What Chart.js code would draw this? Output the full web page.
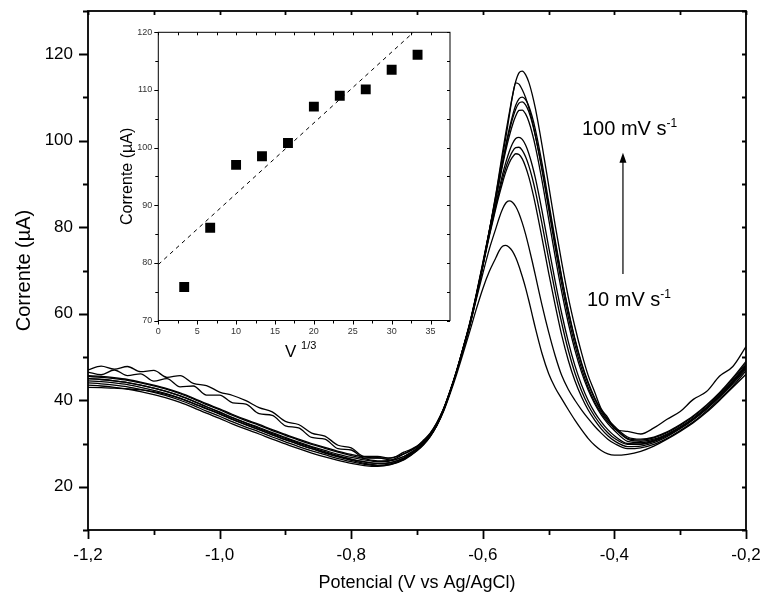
<!doctype html>
<html>

<head>
    <title>Voltametria</title>
    <meta charset="utf-8" />
    <script src="https://cdn.jsdelivr.net/npm/chart.js@4.4.0/dist/chart.umd.min.js"></script>
    <style>
        body { margin: 0; background: #fff; }
        #caixa { position: relative; width: 763px; height: 598px; }
        canvas { position: absolute; }
        .nota { position: absolute; font-family: "Liberation Sans", Arial, sans-serif; font-size: 20px; color: #000; white-space: nowrap; line-height: 22px; }
        .nota sup { font-size: 12px; vertical-align: 8px; line-height: 0; }
    </style>
    <script>
        // potencial (V vs Ag/AgCl)
        const potencial = [
            -1.20, -1.18, -1.16, -1.14, -1.12, -1.10, -1.08, -1.06, -1.04, -1.02,
            -1.00, -0.98, -0.96, -0.94, -0.92, -0.90, -0.88, -0.86, -0.84, -0.82,
            -0.80, -0.78, -0.76, -0.74, -0.72,
            -0.71, -0.70, -0.69, -0.68, -0.67, -0.66, -0.65, -0.64, -0.63, -0.62, -0.61, -0.60, -0.59,
            -0.58, -0.575, -0.57, -0.565, -0.56, -0.555, -0.55, -0.545, -0.54, -0.535, -0.53, -0.525, -0.52,
            -0.51, -0.50, -0.49, -0.48, -0.47, -0.46, -0.45, -0.44, -0.43, -0.42, -0.41, -0.40,
            -0.38, -0.36, -0.34, -0.32, -0.30, -0.28, -0.26, -0.24, -0.22, -0.20
        ];
        // corrente (uA) para cada velocidade de varredura
        const i10 = [
            43.0, 42.9, 42.8, 42.6, 42.4, 42.0, 41.3, 40.4, 39.3, 38.1, 36.9, 35.6, 34.4, 33.2, 32.0, 30.9, 29.8, 28.8, 27.8, 26.9, 26.1, 25.4, 25.0, 25.3, 26.4,
            27.4, 28.5, 29.9, 31.7, 34.1, 37.3, 41.4, 45.9, 50.8, 55.8, 61.0, 65.8, 69.8,
            73.0, 74.6, 75.6, 75.8, 75.4, 74.5, 73.0, 71.0, 68.6, 66.0, 63.0, 59.8, 56.6,
            50.8, 46.2, 42.9, 40.3, 37.8, 35.4, 33.2, 31.2, 29.6, 28.4, 27.6, 27.3,
            27.5, 28.2, 29.4, 31.0, 32.8, 34.8, 37.2, 40.0, 43.0, 46.0
        ];
        const i20 = [
            45.0, 44.8, 44.5, 44.1, 43.5, 42.8, 42.0, 41.0, 39.8, 38.5, 37.2, 35.9, 34.7, 33.5, 32.3, 31.2, 30.1, 29.1, 28.1, 27.2, 26.4, 25.8, 25.4, 25.6, 26.6,
            27.6, 28.6, 30.0, 31.8, 34.3, 37.6, 41.8, 46.5, 51.9, 57.3, 63.3, 69.3, 75.0,
            79.8, 82.2, 84.2, 85.6, 86.1, 85.8, 84.8, 83.2, 81.0, 78.4, 75.4, 72.2, 68.8,
            62.0, 55.8, 50.3, 45.7, 42.5, 40.0, 37.8, 35.8, 34.0, 32.4, 31.0, 30.0,
            28.8, 29.0, 29.8, 31.2, 33.0, 35.0, 37.5, 40.3, 43.3, 46.8
        ];
        const i30 = [
            43.5, 43.3, 43.0, 42.6, 42.0, 41.3, 40.5, 39.5, 38.3, 37.0, 35.8, 34.5, 33.3, 32.2, 31.0, 29.9, 28.8, 27.8, 26.9, 26.1, 25.4, 24.9, 24.7, 25.1, 26.2,
            27.2, 28.3, 29.7, 31.6, 34.1, 37.5, 41.8, 46.6, 52.0, 57.5, 64.0, 71.0, 78.0,
            84.5, 87.5, 90.3, 92.8, 94.8, 96.2, 97.0, 96.8, 95.8, 94.0, 91.6, 88.6, 85.2,
            77.5, 69.5, 62.0, 55.0, 49.2, 44.5, 40.8, 37.8, 35.4, 33.4, 31.8, 30.6,
            29.3, 29.4, 30.2, 31.6, 33.4, 35.5, 38.0, 40.8, 43.8, 47.2
        ];
        const i40 = [
            45.5, 45.3, 45.0, 44.6, 44.0, 43.3, 42.5, 41.5, 40.3, 39.0, 37.8, 36.5, 35.3, 34.2, 33.0, 31.9, 30.8, 29.8, 28.9, 28.0, 27.2, 26.5, 26.0, 26.1, 27.0,
            27.9, 28.9, 30.3, 32.0, 34.5, 37.8, 42.0, 46.7, 52.0, 57.6, 64.2, 71.2, 78.3,
            85.0, 88.2, 91.2, 93.8, 95.9, 97.5, 98.4, 98.5, 97.8, 96.3, 94.2, 91.5, 88.3,
            80.8, 72.8, 65.0, 57.8, 51.5, 46.3, 42.2, 38.9, 36.3, 34.2, 32.5, 31.2,
            29.8, 29.8, 30.5, 31.8, 33.6, 35.7, 38.2, 41.0, 44.2, 47.8
        ];
        const i50 = [
            44.5, 44.3, 44.0, 43.6, 43.0, 42.3, 41.5, 40.5, 39.3, 38.0, 36.8, 35.5, 34.3, 33.2, 32.0, 30.9, 29.8, 28.8, 27.9, 27.0, 26.3, 25.7, 25.4, 25.6, 26.6,
            27.6, 28.6, 30.0, 31.8, 34.3, 37.6, 41.8, 46.5, 51.9, 57.5, 64.1, 71.2, 78.5,
            85.5, 88.9, 92.2, 95.0, 97.4, 99.3, 100.5, 100.8, 100.3, 99.0, 97.0, 94.4, 91.3,
            83.8, 75.5, 67.5, 60.0, 53.5, 48.0, 43.6, 40.0, 37.2, 35.0, 33.2, 31.8,
            30.0, 29.9, 30.6, 32.0, 33.8, 35.8, 38.3, 41.2, 44.5, 48.2
        ];
        const i60 = [
            45.7, 45.5, 45.2, 44.8, 44.2, 43.5, 42.7, 41.7, 40.5, 39.2, 38.0, 36.7, 35.5, 34.4, 33.2, 32.1, 31.0, 30.0, 29.1, 28.2, 27.5, 26.9, 26.6, 26.7, 27.6,
            28.4, 29.3, 30.6, 32.3, 34.7, 37.9, 42.1, 46.8, 52.1, 57.8, 64.5, 71.8, 79.3,
            86.8, 90.6, 94.3, 97.8, 100.9, 103.6, 105.7, 107.0, 107.1, 106.2, 104.4, 101.8, 98.6,
            90.8, 82.0, 73.2, 65.0, 57.8, 51.6, 46.5, 42.4, 39.2, 36.6, 34.6, 33.0,
            30.5, 30.2, 30.8, 32.0, 33.6, 35.6, 38.0, 40.8, 44.0, 47.5
        ];
        const i70 = [
            44.0, 43.8, 43.5, 43.1, 42.5, 41.8, 41.0, 40.0, 38.8, 37.5, 36.3, 35.0, 33.8, 32.7, 31.5, 30.4, 29.3, 28.3, 27.4, 26.5, 25.8, 25.2, 24.9, 25.2, 26.3,
            27.3, 28.4, 29.8, 31.6, 34.1, 37.5, 41.7, 46.4, 51.8, 57.6, 64.3, 71.6, 79.2,
            86.9, 90.9, 94.9, 98.6, 102.0, 105.0, 107.3, 108.7, 109.0, 108.3, 106.7, 104.2, 101.0,
            93.2, 84.3, 75.3, 66.8, 59.3, 52.8, 47.4, 43.0, 39.6, 37.0, 35.0, 33.5,
            31.0, 30.5, 31.0, 32.2, 33.8, 35.8, 38.3, 41.2, 44.4, 48.0
        ];
        const i80 = [
            45.0, 44.8, 44.5, 44.1, 43.5, 42.8, 42.0, 41.0, 39.8, 38.5, 37.3, 36.0, 34.8, 33.7, 32.5, 31.4, 30.3, 29.3, 28.4, 27.5, 26.8, 26.2, 25.8, 26.0, 27.0,
            27.8, 28.8, 30.1, 31.9, 34.4, 37.7, 41.9, 46.6, 52.0, 57.4, 64.0, 71.3, 79.0,
            86.9, 91.0, 95.1, 99.0, 102.6, 105.7, 108.2, 109.7, 110.1, 109.5, 108.0, 105.6, 102.5,
            94.8, 86.0, 77.0, 68.4, 60.6, 54.0, 48.4, 43.9, 40.3, 37.5, 35.4, 33.8,
            31.2, 30.8, 31.3, 32.5, 34.2, 36.2, 38.7, 41.6, 44.9, 48.6
        ];
        const i90 = [
            46.5, 45.9, 47.0, 45.7, 46.1, 44.4, 45.0, 43.1, 43.3, 41.2, 41.2, 39.4, 39.1, 36.9, 36.5, 34.1, 33.6, 31.4, 31.0, 28.8, 28.5, 26.6, 26.7, 26.2, 27.6,
            28.3, 29.2, 30.5, 32.2, 34.6, 37.8, 41.9, 46.5, 51.7, 57.2, 63.8, 71.2, 79.2,
            87.5, 92.0, 96.5, 100.8, 105.5, 110.2, 113.4, 113.1, 111.8, 110.0, 107.6, 104.6, 101.2,
            93.5, 85.0, 76.4, 68.2, 60.8, 54.2, 48.7, 44.2, 40.6, 37.8, 35.6, 34.0,
            31.5, 31.0, 31.5, 32.7, 34.4, 36.4, 38.9, 41.8, 45.2, 49.0
        ];
        const i100 = [
            47.0, 47.9, 47.2, 47.8, 46.6, 46.9, 45.3, 45.7, 43.9, 43.4, 41.9, 41.1, 39.9, 38.3, 37.3, 35.1, 34.4, 32.4, 31.7, 29.6, 29.0, 27.0, 27.0, 26.6, 28.0,
            28.6, 29.4, 30.8, 32.4, 34.8, 37.9, 42.0, 46.5, 51.6, 57.0, 63.6, 71.0, 79.2,
            87.8, 92.5, 97.3, 101.9, 106.2, 110.3, 113.7, 115.7, 116.1, 115.3, 113.5, 110.8, 107.4,
            99.0, 89.8, 80.5, 71.8, 63.8, 57.0, 51.0, 45.8, 41.9, 38.0, 36.0, 33.4,
            32.8, 32.2, 33.6, 35.6, 37.4, 40.2, 42.0, 45.6, 47.8, 52.4
        ];
        const curvas = [i10, i20, i30, i40, i50, i60, i70, i80, i90, i100];

        // marcas dos eixos do grafico principal
        const xTicks = [-1.2, -1.0, -0.8, -0.6, -0.4, -0.2];
        const xMinor = [-1.1, -0.9, -0.7, -0.5, -0.3];
        const yTicks = [20, 40, 60, 80, 100, 120];
        const yMinor = [10, 30, 50, 70, 90, 110, 130];

        // grafico inserido: corrente de pico vs V^1/3
        const insetX = [3.33, 6.67, 10, 13.33, 16.67, 20, 23.33, 26.67, 30, 33.33];
        const insetPico = [75.8, 86.1, 97.0, 98.5, 100.8, 107.1, 109.0, 110.1, 113.5, 116.1];
        const ajusteX = [0, 32.8];
        const ajusteY = [79.7, 120];
        const insetXTicks = [0, 5, 10, 15, 20, 25, 30, 35];
        const insetXMinor = [2.5, 7.5, 12.5, 17.5, 22.5, 27.5, 32.5];
        const insetYTicks = [70, 80, 90, 100, 110, 120];
        const insetYMinor = [75, 85, 95, 105, 115];

        // seta 10 -> 100 mV/s
        const seta = { x: -0.387, de: 69.2, ate: 97.2 };

        const fonte = '"Liberation Sans", Arial, sans-serif';

        function moldura(cfg) {
            return {
                id: 'moldura',
                afterDatasetsDraw(chart) {
                    const { ctx, chartArea: a, scales: { x, y } } = chart;
                    ctx.save();
                    ctx.strokeStyle = '#000';
                    ctx.lineWidth = cfg.lw;
                    ctx.strokeRect(a.left, a.top, a.right - a.left, a.bottom - a.top);
                    ctx.beginPath();
                    const marcaY = (v, fora) => {
                        const py = Math.round(y.getPixelForValue(v)) + 0.5;
                        ctx.moveTo(a.left - fora, py); ctx.lineTo(a.left, py);
                        ctx.moveTo(a.right - cfg.dentro, py); ctx.lineTo(a.right, py);
                    };
                    const marcaX = (v, fora) => {
                        const px = Math.round(x.getPixelForValue(v)) + 0.5;
                        ctx.moveTo(px, a.bottom); ctx.lineTo(px, a.bottom + fora);
                        ctx.moveTo(px, a.top); ctx.lineTo(px, a.top + cfg.dentro);
                    };
                    cfg.yMaior.forEach(v => marcaY(v, cfg.maior));
                    cfg.yMenor.forEach(v => marcaY(v, cfg.menor));
                    cfg.xMaior.forEach(v => marcaX(v, cfg.maior));
                    cfg.xMenor.forEach(v => marcaX(v, cfg.menor));
                    ctx.stroke();
                    if (cfg.seta) {
                        const px = x.getPixelForValue(cfg.seta.x);
                        const y0 = y.getPixelForValue(cfg.seta.de);
                        const y1 = y.getPixelForValue(cfg.seta.ate);
                        ctx.lineWidth = 1.2;
                        ctx.beginPath();
                        ctx.moveTo(px, y0); ctx.lineTo(px, y1 + 8);
                        ctx.stroke();
                        ctx.beginPath();
                        ctx.moveTo(px, y1); ctx.lineTo(px - 3.5, y1 + 10); ctx.lineTo(px + 3.5, y1 + 10);
                        ctx.closePath();
                        ctx.fillStyle = '#000';
                        ctx.fill();
                    }
                    ctx.restore();
                }
            };
        }

        function semPadding(s) {
            s.paddingTop = 0; s.paddingBottom = 0; s.paddingLeft = 0; s.paddingRight = 0;
        }

        window.onload = function () {
            new Chart(document.getElementById('principal'), {
                type: 'line',
                data: {
                    datasets: curvas.map(c => ({
                        data: potencial.map((v, k) => ({ x: v, y: c[k] })),
                        borderColor: '#000',
                        borderWidth: 1.3,
                        pointRadius: 0,
                        fill: false,
                        cubicInterpolationMode: 'monotone'
                    }))
                },
                options: {
                    responsive: false,
                    animation: false,
                    devicePixelRatio: 1,
                    layout: { padding: { left: 0, right: 17, top: 11, bottom: 0 } },
                    plugins: { legend: { display: false }, tooltip: { enabled: false } },
                    scales: {
                        x: {
                            type: 'linear', min: -1.2, max: -0.2,
                            afterBuildTicks: s => { s.ticks = xTicks.map(v => ({ value: v })); },
                            afterFit: s => { s.height = 68; semPadding(s); },
                            grid: { display: false, drawTicks: false },
                            border: { display: false },
                            ticks: {
                                padding: 15, color: '#000', maxRotation: 0, autoSkip: false,
                                font: { family: fonte, size: 17 },
                                callback: v => v.toFixed(1).replace('.', ',')
                            },
                            title: {
                                display: true, text: 'Potencial (V vs Ag/AgCl)', color: '#000',
                                font: { family: fonte, size: 18 }, padding: { top: 0, bottom: 4 }
                            }
                        },
                        y: {
                            type: 'linear', min: 10, max: 130,
                            afterBuildTicks: s => { s.ticks = yTicks.map(v => ({ value: v })); },
                            afterFit: s => { s.width = 88; semPadding(s); },
                            grid: { display: false, drawTicks: false },
                            border: { display: false },
                            ticks: {
                                padding: 15, color: '#000', autoSkip: false,
                                font: { family: fonte, size: 17 },
                                callback: v => String(v)
                            },
                            title: {
                                display: true, text: 'Corrente (µA)', color: '#000',
                                font: { family: fonte, size: 20 }, padding: { top: 12, bottom: 0 }
                            }
                        }
                    }
                },
                plugins: [moldura({
                    lw: 1.8, maior: 9, menor: 5, dentro: 4,
                    xMaior: xTicks, xMenor: xMinor, yMaior: yTicks, yMenor: yMinor, seta: seta
                })]
            });

            new Chart(document.getElementById('inserido'), {
                type: 'scatter',
                data: {
                    datasets: [
                        {
                            data: ajusteX.map((v, k) => ({ x: v, y: ajusteY[k] })),
                            showLine: true,
                            borderColor: '#000',
                            borderWidth: 1,
                            borderDash: [4, 4],
                            pointRadius: 0
                        },
                        {
                            data: insetX.map((v, k) => ({ x: v, y: insetPico[k] })),
                            pointStyle: 'rect',
                            pointRadius: 7,
                            backgroundColor: '#000',
                            borderColor: '#000',
                            borderWidth: 0
                        }
                    ]
                },
                options: {
                    responsive: false,
                    animation: false,
                    devicePixelRatio: 1,
                    layout: { padding: { left: 0, right: 10, top: 12.3, bottom: 0 } },
                    plugins: { legend: { display: false }, tooltip: { enabled: false } },
                    scales: {
                        x: {
                            type: 'linear', min: 0, max: 37.5,
                            afterBuildTicks: s => { s.ticks = insetXTicks.map(v => ({ value: v })); },
                            afterFit: s => { s.height = 44.5; semPadding(s); },
                            grid: { display: false, drawTicks: false },
                            border: { display: false },
                            ticks: {
                                padding: 6, color: '#333', maxRotation: 0, autoSkip: false,
                                font: { family: fonte, size: 9 }
                            }
                        },
                        y: {
                            type: 'linear', min: 70, max: 120,
                            afterBuildTicks: s => { s.ticks = insetYTicks.map(v => ({ value: v })); },
                            afterFit: s => { s.width = 58.3; semPadding(s); },
                            grid: { display: false, drawTicks: false },
                            border: { display: false },
                            ticks: {
                                padding: 6, color: '#333', autoSkip: false,
                                font: { family: fonte, size: 9 }
                            },
                            title: {
                                display: true, text: 'Corrente (µA)', color: '#000',
                                font: { family: fonte, size: 16 }, padding: { top: 18, bottom: 0 }
                            }
                        }
                    }
                },
                plugins: [moldura({
                    lw: 1, maior: 4, menor: 3, dentro: 3,
                    xMaior: insetXTicks, xMenor: insetXMinor, yMaior: insetYTicks, yMenor: insetYMinor
                })]
            });
        };
    </script>
</head>

<body>
    <div id="caixa">
        <canvas id="principal" width="763" height="598" style="left:0;top:0"></canvas>
        <canvas id="inserido" width="360" height="345" style="left:100px;top:20px"></canvas>
        <div class="nota" style="left:582px;top:117px">100 mV s<sup>-1</sup></div>
        <div class="nota" style="left:587px;top:288px">10 mV s<sup>-1</sup></div>
        <div class="nota" style="left:285px;top:341px;font-size:17px">V <sup style="font-size:11px">1/3</sup></div>
    </div>
</body>

</html>
